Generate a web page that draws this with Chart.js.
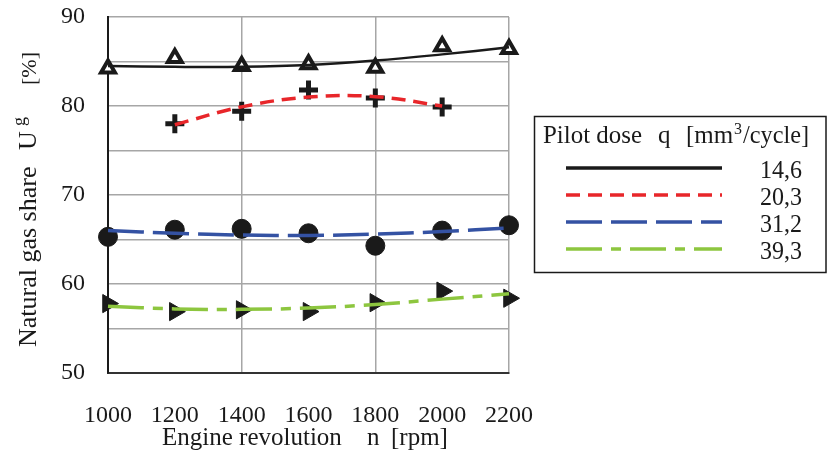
<!DOCTYPE html>
<html>
<head>
<meta charset="utf-8">
<script src="https://cdn.jsdelivr.net/npm/chart.js@4/dist/chart.umd.min.js"></script>
<style>
  html, body { margin: 0; padding: 0; background: #fff; }
  #wrap { width: 827px; height: 452px; position: relative; }
</style>
</head>
<body>
<div id="wrap"><canvas id="gasChart" width="827" height="452"></canvas></div>
<script>
// engine speed, rpm
const rpm = [1000, 1200, 1400, 1600, 1800, 2000, 2200];
const doses = ['14,6', '20,3', '31,2', '39,3'];

// measured natural gas share [%]
const share146 = [84.2, 85.4, 84.5, 84.7, 84.3, 86.7, 86.4];
const share203 = [null, 78.0, 79.4, 81.8, 80.9, 79.9, null];
const share312 = [65.3, 66.1, 66.2, 65.7, 64.3, 66.0, 66.6];
const share393 = [57.8, 56.9, 57.1, 56.9, 57.9, 59.2, 58.4];

// trend curves
const trend146 = [84.5, 84.4, 84.4, 84.6, 85.1, 85.8, 86.6];
const trend203 = [null, 77.9, 79.9, 81.0, 81.05, 80.0, null];
const trend312 = [66.0, 65.7, 65.5, 65.45, 65.6, 65.9, 66.3];
const trend393 = [57.5, 57.2, 57.15, 57.3, 57.7, 58.3, 58.9];

const yTicks = [50, 60, 70, 80, 90];

const FONT = 'Liberation Serif';
const colors = ['#1a1a1a', '#e8262a', '#3452a3', '#8dc63f'];
const dashes = [[], [14, 8], [36, 9], [36, 9, 10, 9]];

function pts(arr) {
    return rpm.map((x, i) => ({ x: x, y: arr[i] })).filter(p => p.y !== null);
}

const markerSets = [
    { data: pts(share146), pointStyle: 'triangle', pointRadius: 8, pointBorderWidth: 4, pointBackgroundColor: '#fff', pointBorderColor: '#1a1a1a', rotation: 0 },
    { data: pts(share203), pointStyle: 'cross', pointRadius: 9.5, pointBorderWidth: 5, pointBackgroundColor: '#1a1a1a', pointBorderColor: '#1a1a1a', rotation: 0 },
    { data: pts(share312), pointStyle: 'circle', pointRadius: 9.5, pointBorderWidth: 1, pointBackgroundColor: '#1a1a1a', pointBorderColor: '#1a1a1a', rotation: 0 },
    { data: pts(share393), pointStyle: 'triangle', pointRadius: 10.5, pointBorderWidth: 1, pointBackgroundColor: '#1a1a1a', pointBorderColor: '#1a1a1a', rotation: 90 }
].map(d => Object.assign(d, { showLine: false, order: 2, clip: false, pointHoverRadius: d.pointRadius }));

const trendSets = [trend146, trend203, trend312, trend393].map((t, i) => ({
    data: pts(t),
    showLine: true,
    borderColor: colors[i],
    borderWidth: i === 0 ? 2.5 : 3.5,
    borderDash: dashes[i],
    tension: 0.4,
    pointRadius: 0,
    pointHoverRadius: 0,
    fill: false,
    clip: false,
    order: 1
}));

// axis titles (with the subscript) and the legend box are drawn by hand
const extras = {
    id: 'extras',
    afterDraw(chart) {
        const c = chart.ctx;
        const f = s => s + 'px "' + FONT + '"';
        c.save();
        c.fillStyle = '#1a1a1a';
        c.textBaseline = 'alphabetic';
        c.textAlign = 'left';

        // y title
        c.save();
        c.translate(36, 347);
        c.rotate(-Math.PI / 2);
        c.font = f(26);
        c.fillText('Natural gas share', 0, 0, 182);
        c.fillText('U', 197, 0);
        c.font = f(18);
        c.fillText('g', 221, -11);
        c.font = f(22);
        c.fillText('[%]', 262, 0);
        c.restore();

        // x title
        c.font = f(25);
        c.fillText('Engine revolution', 162, 445, 180);
        c.fillText('n', 367, 445);
        c.fillText('[rpm]', 391, 445);

        // legend
        c.strokeStyle = '#1a1a1a';
        c.lineWidth = 1.5;
        c.strokeRect(534.5, 116.5, 291.5, 156);
        c.font = f(25);
        c.fillText('Pilot dose', 543, 143, 99);
        c.fillText('q', 658, 143);
        c.fillText('[mm', 686, 143);
        c.font = f(16);
        c.fillText('3', 734, 134);
        c.font = f(25);
        c.fillText('/cycle]', 743, 143, 66);
        const ly = [168, 195, 222, 249];
        doses.forEach((d, i) => {
            c.beginPath();
            c.setLineDash(dashes[i]);
            c.lineCap = 'butt';
            c.strokeStyle = colors[i];
            c.lineWidth = 3.5;
            c.moveTo(566, ly[i]);
            c.lineTo(722, ly[i]);
            c.stroke();
            c.setLineDash([]);
            c.fillStyle = '#1a1a1a';
            c.fillText(d, 760, ly[i] + 10, 42);
        });
        c.restore();
    }
};

const ctx = document.getElementById('gasChart').getContext('2d');
new Chart(ctx, {
    type: 'scatter',
    data: { datasets: trendSets.concat(markerSets) },
    options: {
        responsive: false,
        animation: false,
        events: [],
        layout: { padding: { left: 0, right: 318, top: 17, bottom: 0 } },
        plugins: { legend: { display: false }, tooltip: { enabled: false } },
        scales: {
            x: {
                type: 'linear',
                min: 1000,
                max: 2200,
                afterFit: s => { s.height = 79; s.paddingLeft = 0; s.paddingRight = 0; },
                afterBuildTicks: s => { s.ticks = rpm.map(v => ({ value: v })); },
                ticks: {
                    color: '#1a1a1a', padding: 28, maxRotation: 0,
                    font: { family: FONT, size: 24 },
                    callback: v => String(v)
                },
                grid: {
                    drawTicks: false,
                    lineWidth: 1.5,
                    color: c => (c.tick && (c.tick.value - 1000) % 400 === 0 && c.tick.value !== 1000) ? '#a6a6a6' : 'rgba(0,0,0,0)'
                },
                border: { color: '#333', width: 2 }
            },
            y: {
                min: 50,
                max: 90,
                afterFit: s => { s.width = 108; s.paddingTop = 0; s.paddingBottom = 0; },
                afterBuildTicks: s => {
                    const t = [];
                    for (let v = 50; v <= 90; v += 5) t.push({ value: v });
                    s.ticks = t;
                },
                ticks: {
                    color: '#1a1a1a',
                    padding: 23,
                    font: { family: FONT, size: 24 },
                    callback: v => yTicks.includes(v) ? String(v) : ''
                },
                grid: {
                    drawTicks: false,
                    lineWidth: 1.5,
                    color: c => (c.tick && c.tick.value !== 50) ? '#a6a6a6' : 'rgba(0,0,0,0)'
                },
                border: { color: '#1a1a1a', width: 2 }
            }
        }
    },
    plugins: [extras]
});
</script>
</body>
</html>
